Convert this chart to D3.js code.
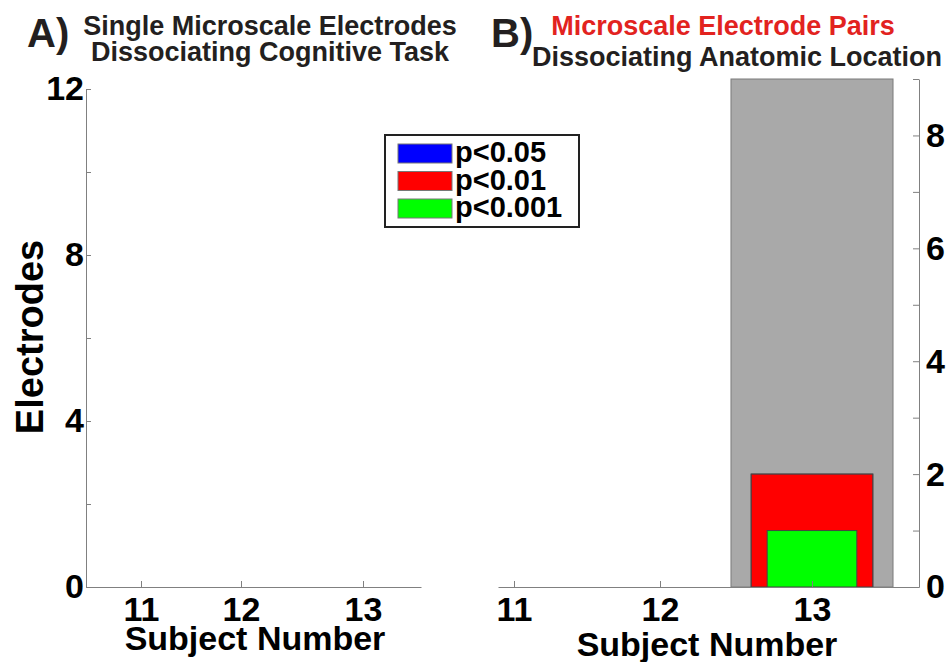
<!DOCTYPE html>
<html>
<head>
<meta charset="utf-8">
<script src="https://cdn.jsdelivr.net/npm/d3@7/dist/d3.min.js"></script>
<style>
  html, body { margin: 0; padding: 0; background: #fff; }
  svg { display: block; font-family: "Liberation Sans", Arial, Helvetica, sans-serif; }
  .axis path, .axis line { stroke: #808080; stroke-width: 1; }
  .axis text { font-size: 34px; font-weight: bold; fill: #000; font-family: "Liberation Sans", Arial, sans-serif; }
</style>
</head>
<body>
<svg id="chart" width="951" height="662"></svg>
<script>
// Subjects on the x axis of both panels
const subjects = [11, 12, 13];

// Panel A: single microscale electrodes dissociating cognitive task
const singleP05 = [0, 0, 0];
const singleP01 = [0, 0, 0];
const singleP001 = [0, 0, 0];

// Panel B: microscale electrode pairs dissociating anatomic location
const pairsTotal = [0, 0, 9];
const pairsP05 = [0, 0, 2];
const pairsP01 = [0, 0, 2];
const pairsP001 = [0, 0, 1];

// Axis ticks
const ticksA = [0, 2, 4, 6, 8, 10, 12];
const labelsA = [0, 4, 8, 12];
const ticksB = [0, 1, 2, 3, 4, 5, 6, 7, 8, 9];
const labelsB = [0, 2, 4, 6, 8];

// Legend
const legendLabels = ["p<0.05", "p<0.01", "p<0.001"];
const legendColors = ["#0000ff", "#ff0000", "#00ff00"];

const svg = d3.select("#chart");

// ---------- Panel A ----------
const xA = d3.scaleLinear().domain([10.45, 11, 12, 13, 13.48]).range([86, 141, 241, 363, 421]);
const yA = d3.scaleLinear().domain([0, 12]).range([587, 89]);

const gA = svg.append("g");
const barWidthsA = [0.8, 0.8, 0.6];
[singleP05, singleP01, singleP001].forEach((vals, k) => {
  gA.selectAll(null).data(vals.map((v, i) => ({ s: subjects[i], v })).filter(d => d.v > 0))
    .join("rect")
    .attr("x", d => xA(d.s - barWidthsA[k] / 2))
    .attr("width", d => xA(d.s + barWidthsA[k] / 2) - xA(d.s - barWidthsA[k] / 2))
    .attr("y", d => yA(d.v))
    .attr("height", d => yA(0) - yA(d.v))
    .attr("fill", legendColors[k])
    .attr("stroke", "#444");
});

gA.append("g").attr("class", "axis")
  .attr("transform", `translate(${xA.range()[0]},0)`)
  .call(d3.axisLeft(yA).tickValues(ticksA).tickSizeInner(-5).tickSizeOuter(0).tickPadding(2)
    .tickFormat(d => labelsA.includes(d) ? d : ""));

gA.append("g").attr("class", "axis")
  .attr("transform", `translate(0,${yA(0)})`)
  .call(d3.axisBottom(xA).tickValues(subjects).tickSizeInner(-6).tickSizeOuter(0).tickPadding(10)
    .tickFormat(d3.format("d")));

gA.append("text")
  .attr("transform", `translate(43,337) rotate(-90)`)
  .attr("text-anchor", "middle")
  .style("font-size", "38px").style("font-weight", "bold")
  .text("Electrodes");

gA.append("text").attr("x", 255).attr("y", 650)
  .attr("text-anchor", "middle")
  .style("font-size", "34px").style("font-weight", "bold")
  .text("Subject Number");

// ---------- Panel B ----------
const xB = d3.scaleLinear().domain([10.9, 11, 12, 13, 13.704]).range([498, 514, 660, 812, 919]);
const yB = d3.scaleLinear().domain([0, 9]).range([587, 79]);

const gB = svg.append("g");
const layersB = [
  { vals: pairsTotal, width: 1.066, fill: "#a9a9a9", stroke: "#7a7a7a" },
  { vals: pairsP05, width: 0.8, fill: legendColors[0], stroke: "#444" },
  { vals: pairsP01, width: 0.8, fill: legendColors[1], stroke: "#444" },
  { vals: pairsP001, width: 0.59, fill: legendColors[2], stroke: "#444" }
];
layersB.forEach(layer => {
  gB.selectAll(null).data(layer.vals.map((v, i) => ({ s: subjects[i], v })).filter(d => d.v > 0))
    .join("rect")
    .attr("x", d => xB(d.s - layer.width / 2))
    .attr("width", d => xB(d.s + layer.width / 2) - xB(d.s - layer.width / 2))
    .attr("y", d => yB(d.v))
    .attr("height", d => yB(0) - yB(d.v))
    .attr("fill", layer.fill)
    .attr("stroke", layer.stroke)
    .attr("stroke-width", 1);
});

gB.append("g").attr("class", "axis")
  .attr("transform", `translate(0,${yB(0)})`)
  .call(d3.axisBottom(xB).tickValues(subjects).tickSizeInner(-6).tickSizeOuter(0).tickPadding(10)
    .tickFormat(d3.format("d")));

gB.append("g").attr("class", "axis")
  .attr("transform", `translate(${xB.range()[4]},0)`)
  .call(d3.axisRight(yB).tickValues(ticksB).tickSizeInner(-6).tickSizeOuter(0).tickPadding(7)
    .tickFormat(d => labelsB.includes(d) ? d : ""));

gB.append("text").attr("x", 707).attr("y", 656)
  .attr("text-anchor", "middle")
  .style("font-size", "34px").style("font-weight", "bold")
  .text("Subject Number");

// ---------- Legend ----------
const legend = svg.append("g");
legend.append("rect")
  .attr("x", 385).attr("y", 135).attr("width", 194).attr("height", 92)
  .attr("fill", "#fff").attr("stroke", "#222").attr("stroke-width", 2);
const rowY = d3.scalePoint().domain(legendLabels).range([144, 199]);
legend.selectAll(".sw").data(legendLabels).join("rect")
  .attr("x", 398).attr("y", d => rowY(d)).attr("width", 54).attr("height", 19)
  .attr("fill", (d, i) => legendColors[i]).attr("stroke", "#777");
legend.selectAll(".lt").data(legendLabels).join("text")
  .attr("x", 455).attr("y", d => rowY(d) + 18)
  .style("font-size", "29px").style("font-weight", "bold")
  .text(d => d);

// ---------- Titles ----------
const titleFill = "#231f20";
svg.append("text").attr("x", 27).attr("y", 47)
  .style("font-size", "40px").style("font-weight", "bold").attr("fill", titleFill).text("A)");
svg.append("text").attr("x", 270).attr("y", 35).attr("text-anchor", "middle")
  .style("font-size", "27px").style("font-weight", "bold").attr("fill", titleFill)
  .text("Single Microscale Electrodes");
svg.append("text").attr("x", 270).attr("y", 61).attr("text-anchor", "middle")
  .style("font-size", "27px").style("font-weight", "bold").attr("fill", titleFill)
  .text("Dissociating Cognitive Task");

svg.append("text").attr("x", 491).attr("y", 47)
  .style("font-size", "40px").style("font-weight", "bold").attr("fill", titleFill).text("B)");
svg.append("text").attr("x", 723).attr("y", 35).attr("text-anchor", "middle")
  .style("font-size", "27px").style("font-weight", "bold").attr("fill", "#e2231f")
  .text("Microscale Electrode Pairs");
svg.append("text").attr("x", 737).attr("y", 66).attr("text-anchor", "middle")
  .style("font-size", "27px").style("font-weight", "bold").attr("fill", titleFill)
  .text("Dissociating Anatomic Location");
</script>
</body>
</html>
